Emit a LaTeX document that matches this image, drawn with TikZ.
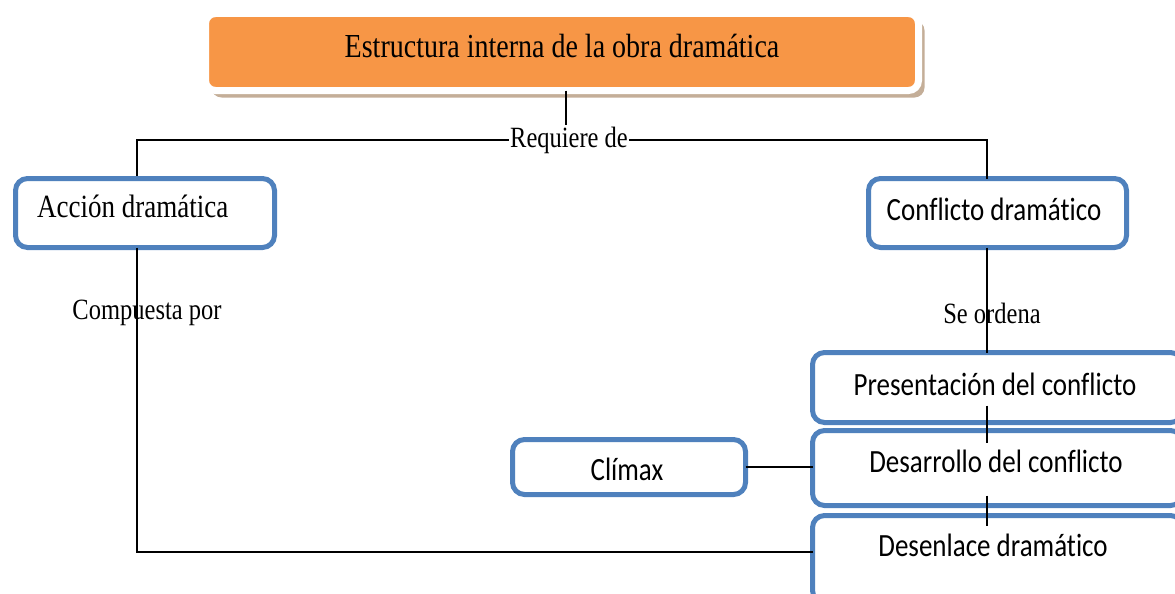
\documentclass[tikz,border=0pt]{standalone}
\usepackage{fontspec}
\usepackage{graphicx}
\setmainfont{Liberation Serif}
\newfontfamily\calib[Ligatures={NoCommon,NoRare}]{Carlito}
\usetikzlibrary{shadows,calc}
\definecolor{topor}{HTML}{F79646}
\definecolor{boxblue}{HTML}{4F81BD}
\definecolor{shadowc}{HTML}{C4AE98}
\newcommand{\vstretch}[1]{\scalebox{1}[1.2]{#1}}
\tikzset{
  box/.style={draw=boxblue, line width=5pt, rounded corners=12pt, fill=white, inner sep=0pt, outer sep=0pt},
  conn/.style={draw=black, line width=1.6pt},
  serif/.style={font=\fontsize{27}{30}\selectfont, inner sep=0pt},
  lbl/.style={font=\fontsize{24.5}{27}\selectfont, inner sep=1pt},
  cal/.style={font=\calib\fontsize{27}{30}\selectfont, inner sep=0pt},
}
\begin{document}
\begin{tikzpicture}[x=1pt,y=-1pt]
\useasboundingbox (0,0) rectangle (1175,594);
% top box
\node[fill=topor, draw=white, line width=7pt, rounded corners=10pt, minimum width=713pt, minimum height=77pt, inner sep=0pt, outer sep=0pt,
      drop shadow={shadow xshift=6pt, shadow yshift=-7pt, fill=shadowc, opacity=1}] (top) at (562,52) {};
\node[serif, font=\fontsize{28}{30}\selectfont] (toptxt) at (562,46) {\vstretch{Estructura interna de la obra dramática}};
% boxes
\node[box, minimum width=259pt, minimum height=69pt] (accion) at (145,213) {};
\node[box, minimum width=258pt, minimum height=69pt] (conf) at (997.5,213) {};
\node[box, minimum width=370pt, minimum height=70pt] (pres) at (997.5,387.5) {};
\node[box, minimum width=370pt, minimum height=75pt] (desa) at (997.5,468) {};
\node[box, minimum width=370pt, minimum height=87pt] (desen) at (997.5,559) {};
\node[box, minimum width=233pt, minimum height=55pt] (clim) at (629,467) {};
% texts
\node[serif, anchor=west] (acctxt) at (37,206) {\vstretch{Acción dramática}};
\node[cal] (conftxt) at (994,209) {\vstretch{Conflicto dramático}};
\node[cal] (prestxt) at (995,384) {\vstretch{Presentación del conflicto}};
\node[cal] (desatxt) at (996,461) {\vstretch{Desarrollo del conflicto}};
\node[cal] (desentxt) at (993,545) {\vstretch{Desenlace dramático}};
\node[cal] (climtxt) at (627,469) {\vstretch{Clímax}};
% labels
\node[lbl] (req) at (569,140) {\vstretch{Requiere de}};
\node[lbl] (comp) at (147,313) {\vstretch{Compuesta por}};
\node[lbl] (orden) at (992,313) {\vstretch{Se ordena}};
\coordinate (spine) at (987,0);
% connectors
\draw[conn] ($(top.south)+(4,0)$) -- ($(req.north)+(-3,0)$);
\draw[conn] (req.west) -| (137,176) coordinate (accTop);
\draw[conn] (req.east) -| (conf.north -| spine);
\draw[conn] (accion.south -| accTop) |- ($(desen.west)+(0,-7)$);
\draw[conn] (conf.south -| spine) -- (pres.north -| spine);
\draw[conn] ($(pres.south -| spine)+(0,-17)$) -- ($(desa.north -| spine)+(0,12)$);
\draw[conn] ($(desa.south -| spine)+(0,-10)$) -- ($(desen.north -| spine)+(0,10)$);
\draw[conn] (clim.east) -- (clim.east -| desa.west);
\end{tikzpicture}
\end{document}
